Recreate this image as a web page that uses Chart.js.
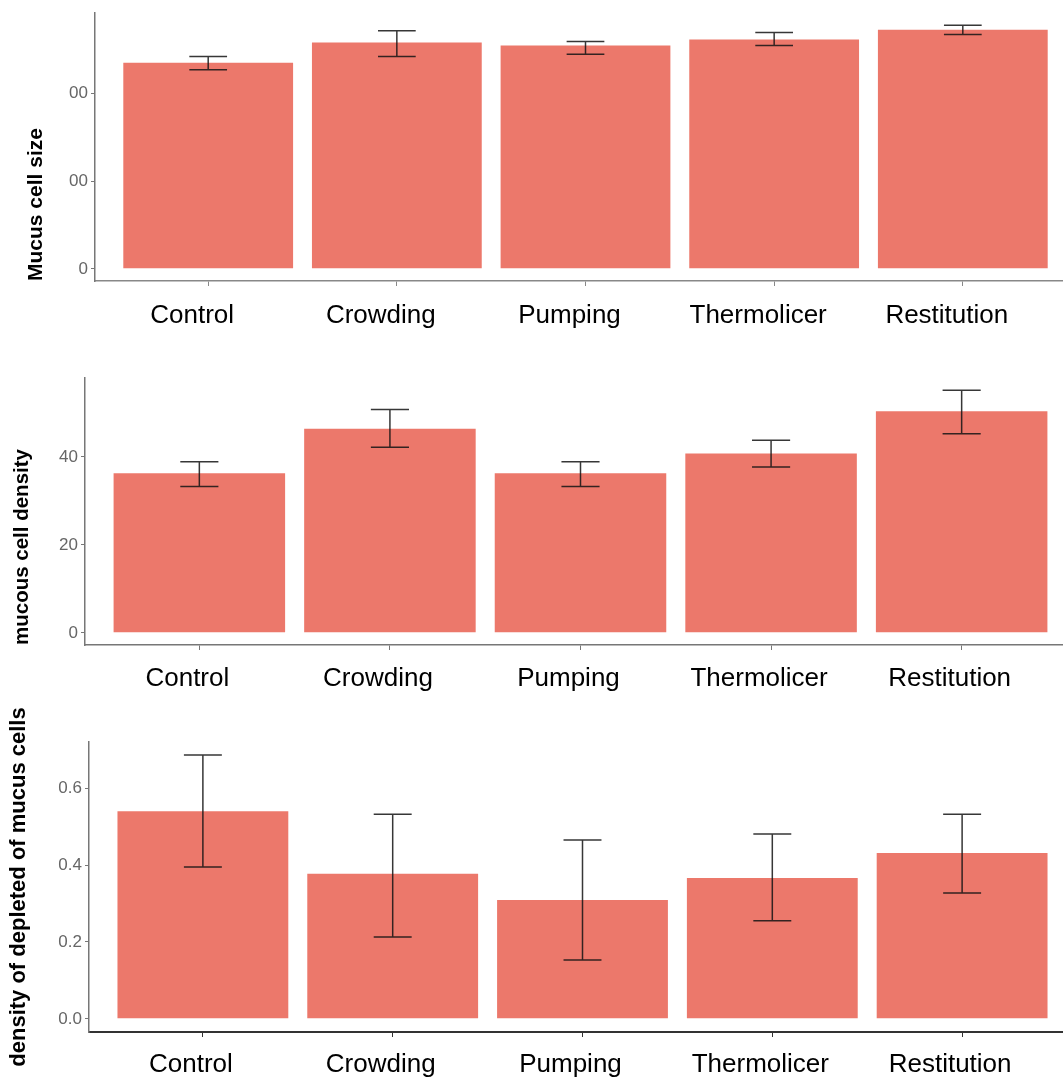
<!DOCTYPE html>
<html>
<head>
<meta charset="utf-8">
<script src="https://cdn.jsdelivr.net/npm/chart.js@4.4.0/dist/chart.umd.min.js"></script>
<style>
    html, body { margin: 0; padding: 0; background: #fff; overflow: hidden; }
    #wrap { position: relative; width: 1063px; height: 1078px; overflow: hidden; }
    canvas { position: absolute; left: 0; }
</style>
</head>
<body>
<div id="wrap">
    <canvas id="chartSize" width="1080" height="345" style="top:0px"></canvas>
    <canvas id="chartDensity" width="1080" height="360" style="top:345px"></canvas>
    <canvas id="chartDepleted" width="1080" height="388" style="top:690px"></canvas>
</div>
<script>
var categorias = ["Control", "Crowding", "Pumping", "Thermolicer", "Restitution"];

// painel 1 - tamanho
var sizeMedia = [470, 516, 509, 523, 545];
var sizeLow = [454, 484, 489, 509, 534];
var sizeHigh = [484, 543, 518, 539, 555];
var sizeTicks = [0, 200, 400];
var sizeTickLabels = ["0", "00", "00"];

// painel 2 - densidade
var densMedia = [36.3, 46.4, 36.3, 40.8, 50.4];
var densLow = [33.3, 42.2, 33.3, 37.7, 45.3];
var densHigh = [38.9, 50.8, 38.9, 43.8, 55.2];
var densTicks = [0, 20, 40];
var densTickLabels = ["0", "20", "40"];

// painel 3 - depletadas
var deplMedia = [0.540, 0.377, 0.309, 0.366, 0.431];
var deplLow = [0.395, 0.213, 0.153, 0.255, 0.327];
var deplHigh = [0.686, 0.532, 0.465, 0.481, 0.532];
var deplTicks = [0, 0.2, 0.4, 0.6];
var deplTickLabels = ["0.0", "0.2", "0.4", "0.6"];

var fonte = "'Liberation Sans', Arial, sans-serif";
var corBarra = "#EC786B";

function errorBars(low, high) {
    return {
        id: "errorBars",
        afterDatasetsDraw: function (chart) {
            const ctx = chart.ctx;
            const xs = chart.scales.x;
            const ys = chart.scales.y;
            const meia = xs.getPixelForValue(1.1) - xs.getPixelForValue(1);
            ctx.save();
            ctx.strokeStyle = "rgba(20,20,20,0.85)";
            ctx.lineWidth = 1.5;
            for (let i = 0; i < low.length; i++) {
                const x = xs.getPixelForValue(i + 1);
                const yTop = ys.getPixelForValue(high[i]);
                const yBot = ys.getPixelForValue(low[i]);
                ctx.beginPath();
                ctx.moveTo(x, yTop);
                ctx.lineTo(x, yBot);
                ctx.moveTo(x - meia, yTop);
                ctx.lineTo(x + meia, yTop);
                ctx.moveTo(x - meia, yBot);
                ctx.lineTo(x + meia, yBot);
                ctx.stroke();
            }
            ctx.restore();
        }
    };
}

function criarGrafico(id, o) {
    const ctx = document.getElementById(id).getContext("2d");
    return new Chart(ctx, {
        type: "bar",
        data: {
            datasets: [{
                data: o.media.map((v, i) => ({ x: i + 1, y: v })),
                backgroundColor: corBarra,
                borderWidth: 0,
                barPercentage: 1,
                categoryPercentage: 0.9
            }]
        },
        options: {
            responsive: false,
            animation: false,
            layout: { padding: { top: o.padTop, right: 4, left: 0, bottom: 0 } },
            plugins: { legend: { display: false }, tooltip: { enabled: false } },
            scales: {
                x: {
                    type: "linear",
                    offset: false,
                    min: 0.4,
                    max: 5.6,
                    afterBuildTicks: function (axis) {
                        axis.ticks = categorias.map((c, i) => ({ value: i + 1 }));
                    },
                    afterFit: function (axis) { axis.height = o.xHeight; },
                    ticks: {
                        color: "#000",
                        font: { family: fonte, size: 26 },
                        padding: o.xPad,
                        labelOffset: o.xShift,
                        maxRotation: 0,
                        autoSkip: false,
                        callback: (v) => categorias[Math.round(v) - 1]
                    },
                    grid: { offset: false, drawOnChartArea: false, tickLength: 5, color: o.eixoCor },
                    border: { display: true, color: o.eixoCor, width: o.eixoX }
                },
                y: {
                    min: o.min,
                    max: o.max,
                    afterBuildTicks: function (axis) {
                        axis.ticks = o.ticks.map((v) => ({ value: v }));
                    },
                    afterFit: function (axis) { axis.width = o.yWidth; },
                    ticks: {
                        color: "#666",
                        font: { family: fonte, size: 17 },
                        padding: 3,
                        callback: (v, i) => o.tickLabels[i]
                    },
                    grid: { drawOnChartArea: false, tickLength: 4, color: "#777" },
                    border: { display: true, color: "#777", width: 1.5 },
                    title: {
                        display: true,
                        text: o.titulo,
                        align: o.alinhar,
                        color: "#000",
                        font: { family: fonte, size: o.tituloTam, weight: "bold" },
                        padding: { top: o.tituloPad, bottom: 0 }
                    }
                }
            }
        },
        plugins: [errorBars(o.low, o.high)]
    });
}

criarGrafico("chartSize", {
    media: sizeMedia, low: sizeLow, high: sizeHigh,
    ticks: sizeTicks, tickLabels: sizeTickLabels,
    min: -27.75, max: 582.75,
    padTop: 13, xHeight: 64, xPad: 14, xShift: -16, yWidth: 95,
    eixoCor: "#888", eixoX: 1.5,
    titulo: "Mucus cell size", alinhar: "start", tituloTam: 21, tituloPad: 24
});

criarGrafico("chartDensity", {
    media: densMedia, low: densLow, high: densHigh,
    ticks: densTicks, tickLabels: densTickLabels,
    min: -2.76, max: 57.96,
    padTop: 33, xHeight: 60, xPad: 13, xShift: -12, yWidth: 85,
    eixoCor: "#777", eixoX: 1.5,
    titulo: "mucous cell density", alinhar: "start", tituloTam: 20.5, tituloPad: 10
});

criarGrafico("chartDepleted", {
    media: deplMedia, low: deplLow, high: deplHigh,
    ticks: deplTicks, tickLabels: deplTickLabels,
    min: -0.0343, max: 0.72,
    padTop: 52, xHeight: 46, xPad: 12, xShift: -12, yWidth: 89,
    eixoCor: "#333", eixoX: 2,
    titulo: "density of depleted of mucus cells", alinhar: "center", tituloTam: 22, tituloPad: 6
});
</script>
</body>
</html>
